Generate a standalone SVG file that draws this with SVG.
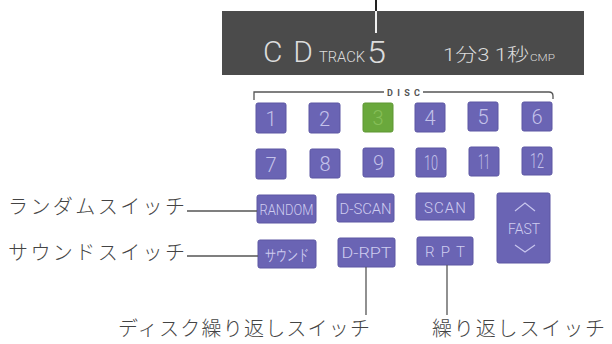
<svg xmlns="http://www.w3.org/2000/svg" width="612" height="344" viewBox="0 0 612 344">
<style>
.btn{fill:#6a64b4;stroke:#5c57a3;stroke-width:1}
.g{fill:#6aa83c;stroke:#5e9733;stroke-width:1}
.num{font-family:Roboto,"Liberation Sans",sans-serif;font-weight:300;font-size:20px;fill:#c4c2ea;text-anchor:middle}
.lbl{font-family:Roboto,"Liberation Sans",sans-serif;font-weight:300;font-size:15px;fill:#cfcdf0;text-anchor:middle}
.jp{font-family:"Noto Sans CJK JP","Noto Sans",sans-serif;font-weight:300;font-size:20px;fill:#444}
.disp{font-family:Roboto,"Liberation Sans","Noto Sans CJK JP",sans-serif;font-weight:300;fill:#dcdcdc}
.ln{stroke:#555;stroke-width:1.3;fill:none}
</style>
<rect width="612" height="344" fill="#ffffff"/>
<g id="display">
<rect x="222" y="11" width="362" height="64" fill="#4b4b4b"/>
<text class="disp" x="263" y="62" font-size="30" textLength="50" lengthAdjust="spacing">CD</text>
<text class="disp" x="319" y="62" font-size="15" textLength="46" lengthAdjust="spacingAndGlyphs">TRACK</text>
<text class="disp" x="367" y="63" font-size="31" textLength="19" lengthAdjust="spacingAndGlyphs">5</text>
<text class="disp" x="443" y="61" font-size="18" textLength="86" lengthAdjust="spacingAndGlyphs">1分3 1秒</text>
<text class="disp" x="530" y="61" font-size="9" textLength="25" lengthAdjust="spacingAndGlyphs">CMP</text>
</g>
<g id="disc-bracket">
<path class="ln" d="M254,100 V92 H384 M423,92 H549 Q553,92 553,96 V99"/>
<text x="403.5" y="95.5" font-family="Roboto,'Liberation Sans',sans-serif" font-weight="700" font-size="9" fill="#555" text-anchor="middle" textLength="33" lengthAdjust="spacing">DISC</text>
</g>
<g id="disc-1"><rect class="btn" x="256" y="103" width="30" height="30" rx="2"/><text class="num" x="271" y="126">1</text></g>
<g id="disc-2"><rect class="btn" x="309" y="103" width="31" height="30" rx="2"/><text class="num" x="324.5" y="126">2</text></g>
<g id="disc-3"><rect class="g" x="363" y="103" width="30" height="29" rx="2"/><text class="num" x="378" y="125" style="fill:#86bf58">3</text></g>
<g id="disc-4"><rect class="btn" x="415" y="103" width="30" height="29" rx="2"/><text class="num" x="430" y="125">4</text></g>
<g id="disc-5"><rect class="btn" x="468" y="102" width="30" height="29" rx="2"/><text class="num" x="483" y="124">5</text></g>
<g id="disc-6"><rect class="btn" x="522" y="102" width="30" height="29" rx="2"/><text class="num" x="537" y="124">6</text></g>
<g id="disc-7"><rect class="btn" x="256" y="149" width="30" height="30" rx="2"/><text class="num" x="271" y="172">7</text></g>
<g id="disc-8"><rect class="btn" x="310" y="149" width="30" height="29" rx="2"/><text class="num" x="325" y="171">8</text></g>
<g id="disc-9"><rect class="btn" x="363" y="148" width="31" height="29" rx="2"/><text class="num" x="378.5" y="170">9</text></g>
<g id="disc-10"><rect class="btn" x="416" y="148" width="30" height="29" rx="2"/><text class="num" x="431" y="170" textLength="14" lengthAdjust="spacingAndGlyphs">10</text></g>
<g id="disc-11"><rect class="btn" x="469" y="147" width="30" height="29" rx="2"/><text class="num" x="484" y="169" textLength="12" lengthAdjust="spacingAndGlyphs">11</text></g>
<g id="disc-12"><rect class="btn" x="522" y="147" width="30" height="28" rx="2"/><text class="num" x="537" y="168" textLength="14" lengthAdjust="spacingAndGlyphs">12</text></g>
<g id="random"><rect class="btn" x="257" y="195" width="59" height="28" rx="2"/><text class="lbl" x="286.5" y="215" textLength="54" lengthAdjust="spacingAndGlyphs">RANDOM</text></g>
<g id="d-scan"><rect class="btn" x="337" y="194" width="57" height="28" rx="2"/><text class="lbl" x="365.5" y="214" textLength="52" lengthAdjust="spacingAndGlyphs">D-SCAN</text></g>
<g id="scan"><rect class="btn" x="416" y="193" width="58" height="27" rx="2"/><text class="lbl" x="445" y="213" textLength="42" lengthAdjust="spacing">SCAN</text></g>
<g id="fast"><rect class="btn" x="497" y="193" width="53" height="70" rx="2"/>
<path d="M515,211 L525,203 L535,211" fill="none" stroke="#c8c6ee" stroke-width="1.2"/>
<text class="lbl" x="524" y="234" textLength="32" lengthAdjust="spacingAndGlyphs">FAST</text>
<path d="M515,245 L525,252 L535,245" fill="none" stroke="#c8c6ee" stroke-width="1.2"/></g>
<g id="sound"><rect class="btn" x="258" y="240" width="58" height="28" rx="2"/><text class="lbl" x="287" y="260" font-family="'Noto Sans CJK JP',sans-serif" font-size="13" textLength="44" lengthAdjust="spacingAndGlyphs">サウンド</text></g>
<g id="d-rpt"><rect class="btn" x="338" y="238" width="57" height="29" rx="2"/><text class="lbl" x="366.5" y="258" textLength="50" lengthAdjust="spacingAndGlyphs">D-RPT</text></g>
<g id="rpt"><rect class="btn" x="417" y="237" width="56" height="28" rx="2"/><text class="lbl" x="445" y="257" textLength="40" lengthAdjust="spacing">RPT</text></g>
<g id="connectors">
<line x1="376" y1="0" x2="376" y2="11" stroke="#222" stroke-width="2"/>
<line x1="376" y1="11" x2="376" y2="33" stroke="#f0f0f0" stroke-width="2"/>
<line class="ln" x1="187" y1="211" x2="257" y2="211"/>
<line class="ln" x1="187" y1="256" x2="258" y2="256"/>
<line class="ln" x1="366" y1="267" x2="366" y2="315"/>
<line class="ln" x1="447" y1="265" x2="447" y2="315"/>
</g>
<g id="labels">
<text class="jp" x="8" y="214" textLength="177" lengthAdjust="spacing">ランダムスイッチ</text>
<text class="jp" x="8" y="260" textLength="177" lengthAdjust="spacing">サウンドスイッチ</text>
<text class="jp" x="118" y="336" textLength="252" lengthAdjust="spacing">ディスク繰り返しスイッチ</text>
<text class="jp" x="432" y="336" textLength="173" lengthAdjust="spacing">繰り返しスイッチ</text>
</g>
</svg>
